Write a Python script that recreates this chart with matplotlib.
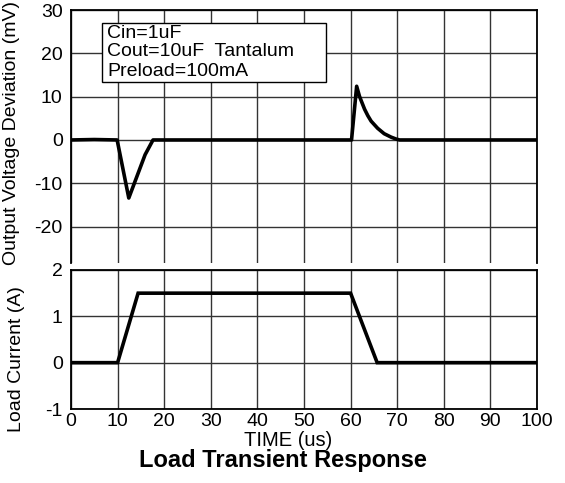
import matplotlib
matplotlib.use("Agg")
import matplotlib.pyplot as plt
from matplotlib.patches import Rectangle

plt.rcParams['font.family'] = ['Liberation Sans', 'DejaVu Sans']
plt.rcParams['axes.unicode_minus'] = False

# Output voltage deviation (mV) vs time (us)
v_time = [0, 5, 9.9, 12.4, 15.9, 17.6, 25, 35, 45, 55, 60.2, 61.3, 61.9, 62.3, 63.0, 63.7, 64.4, 65.8, 67.2, 68.7, 69.8, 70.5, 80, 90, 100]
v_mv   = [0, 0.1, 0, -13.4, -3.4, 0, 0, 0, 0, 0, 0, 12.4, 10.1, 9.0, 7.1, 5.6, 4.35, 2.7, 1.45, 0.65, 0.2, 0, 0, 0, 0]

# Load current (A) vs time (us)
i_time = [0, 10, 14.4, 60, 65.7, 100]
i_amp  = [0, 0, 1.5, 1.5, 0, 0]

x_ticks = [0, 10, 20, 30, 40, 50, 60, 70, 80, 90, 100]
v_ticks = [-20, -10, 0, 10, 20, 30]
i_ticks = [-1, 0, 1, 2]
note_lines = ["Cin=1uF", "Cout=10uF  Tantalum", "Preload=100mA"]

W, H = 565, 483
fig = plt.figure(figsize=(W / 100, H / 100), dpi=100)

def frac(l, t, r, b):
    return [l / W, 1 - b / H, (r - l) / W, (b - t) / H]

grid_kw = dict(color='#333333', linewidth=1.0)

ax1 = fig.add_axes(frac(71, 10, 537, 263))
ax2 = fig.add_axes(frac(71, 270, 537, 409))

for ax in (ax1, ax2):
    ax.set_xlim(0, 100)
    ax.set_xticks(x_ticks)
    ax.grid(True, **grid_kw)
    ax.set_axisbelow(True)
    for s in ax.spines.values():
        s.set_linewidth(1.3)
        s.set_color('black')
    ax.tick_params(length=0, labelsize=14, pad=6)

ax1.spines['bottom'].set_visible(False)
ax1.set_ylim(-28.4, 30)
ax1.set_yticks(v_ticks)
ax1.tick_params(axis='x', labelbottom=False)
ax1.plot(v_time, v_mv, color='black', linewidth=2.6, solid_joinstyle='round', zorder=3)

ax2.set_ylim(-1, 2)
ax2.set_yticks(i_ticks)
ax2.tick_params(axis='x', pad=3)
ax2.plot(i_time, i_amp, color='black', linewidth=2.6, solid_joinstyle='miter', zorder=3)

# note box
def axfrac(px, py):
    return ((px - 71) / 466, 1 - (py - 10) / 253)

bl = axfrac(102, 82)
tr = axfrac(326, 23)
ax1.add_patch(Rectangle(bl, tr[0] - bl[0], tr[1] - bl[1], transform=ax1.transAxes,
                        facecolor='white', edgecolor='black', linewidth=1.0, zorder=5, clip_on=False))
for k, line in enumerate(note_lines):
    x, y = axfrac(107, 33 + 19 * k)
    ax1.text(x, y, line, transform=ax1.transAxes, fontsize=14, ha='left', va='center', zorder=6)

fig.text(12 / W, 1 - 133 / H, "Output Voltage Deviation (mV)", rotation=90,
         ha='center', va='center', fontsize=14)
fig.text(17 / W, 1 - 359 / H, "Load Current (A)", rotation=90,
         ha='center', va='center', fontsize=14)
fig.text(288 / W, 1 - 440 / H, "TIME (us)", ha='center', va='center', fontsize=14.5)
fig.text(283 / W, 1 - 461 / H, "Load Transient Response", ha='center', va='center',
         fontsize=17, fontweight='bold')

fig.savefig("out.png", dpi=100)
